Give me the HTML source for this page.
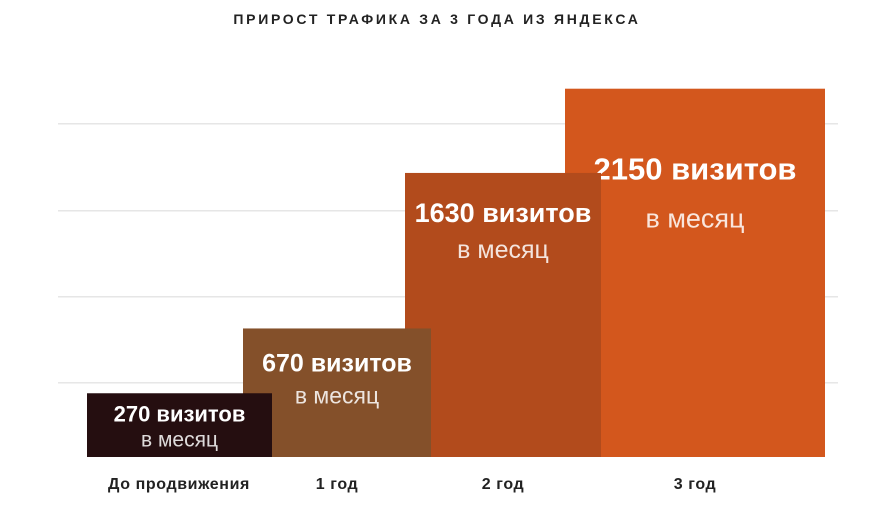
<!DOCTYPE html>
<html><head><meta charset="utf-8"><style>
html,body{margin:0;padding:0;background:#fff;}
body{width:874px;height:509px;overflow:hidden;position:relative;font-family:"Liberation Sans","DejaVu Sans",sans-serif;}
#title{position:absolute;top:11px;left:0;width:874px;text-align:center;font-size:14px;font-weight:bold;letter-spacing:2.7px;color:#222;}
</style></head><body>
<div id="title">ПРИРОСТ ТРАФИКА ЗА 3 ГОДА ИЗ ЯНДЕКСА</div>
<svg id="chart" width="874" height="509" style="position:absolute;left:0;top:0"></svg>
<script>
const categories=["До продвижения","1 год","2 год","3 год"];
const values=[270,670,1630,2150];
const valueLabels=["270 визитов","670 визитов","1630 визитов","2150 визитов"];
const subLabels=["в месяц","в месяц","в месяц","в месяц"];
const gridValues=[333,864,1395,1932];
const colors=["#250e10","#84502a","#b24b1c","#d3571d"];
const base=457;
function yScale(v){return base-(20+0.162*v);}
const bx=[[87,272],[243,431],[405,601],[565,825]];
const fs=[[22,21],[25,23],[27,25],[31,27]];
const off=[[28,25],[43,32],[49,36],[91,48]];
const ns="http://www.w3.org/2000/svg";
const svg=document.getElementById('chart');
function mk(t,a){const e=document.createElementNS(ns,t);for(const k in a)e.setAttribute(k,a[k]);return e;}
gridValues.forEach(g=>{
  const l=mk('rect',{x:58,y:yScale(g)-1,width:780,height:1.5,fill:'#e6e6e6'});
  
  
  svg.appendChild(l);
});
for(let i=values.length-1;i>=0;i--){
  const y=yScale(values[i]);
  const [x0,x1]=bx[i];
  const r=mk('rect',{x:x0,y:y,width:x1-x0,height:base-y,fill:colors[i]});
  
  
  svg.appendChild(r);
  const cx=(x0+x1)/2;
  const t1y=y+off[i][0];
  const t=mk('text',{x:cx,y:t1y,'text-anchor':'middle',fill:'#fff','font-weight':'bold','font-size':fs[i][0],'font-family':'Liberation Sans, DejaVu Sans, sans-serif'});
  t.textContent=valueLabels[i];
  
  
  svg.appendChild(t);
  const t2=mk('text',{x:cx,y:t1y+off[i][1],'text-anchor':'middle',fill:'rgba(255,255,255,0.85)','font-size':fs[i][1],'font-family':'Liberation Sans, DejaVu Sans, sans-serif'});
  t2.textContent=subLabels[i];
  
  
  svg.appendChild(t2);
}
const catX=[179,337,503,695];
categories.forEach((c,i)=>{
  const t=mk('text',{x:catX[i],y:489,'text-anchor':'middle',fill:'#222','font-weight':'bold','font-size':16,'letter-spacing':0.6,'font-family':'Liberation Sans, DejaVu Sans, sans-serif'});
  t.textContent=c;
  
  
  svg.appendChild(t);
});
</script>
</body></html>
